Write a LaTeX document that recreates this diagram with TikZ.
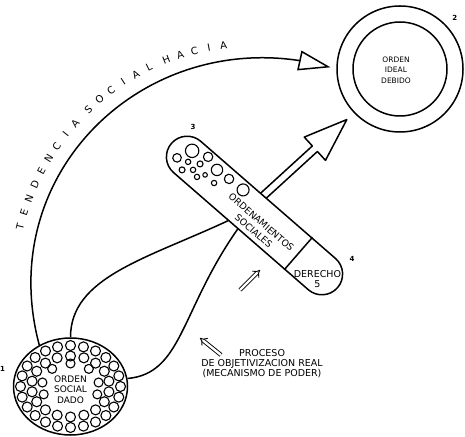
\documentclass[tikz,border=0pt]{standalone}
\usepackage{fontspec}
\setmainfont{DejaVu Sans}
\usetikzlibrary{arrows.meta,positioning,calc,shapes.geometric,shapes.arrows,bending}

\begin{document}
\begin{tikzpicture}[
  x=1pt, y=1pt, line width=1.5pt, line join=round,
  lbl/.style={align=center, inner sep=0pt},
  num/.style={inner sep=0pt, font=\fontsize{7}{7}\selectfont\bfseries},
  letra/.style={inner sep=0pt, font=\fontsize{10}{10}\selectfont},
  bubble/.style={line width=1.1pt},
  tube/.style={draw, fill=white, rounded corners=20.7pt, minimum width=220pt,
    minimum height=41.4pt, inner sep=0pt},
  bigarrow/.style={single arrow, draw, fill=white, minimum height=126pt,
    minimum width=30pt, single arrow head extend=12pt, single arrow tip angle=40,
    inner xsep=0pt, inner ysep=3pt},
  push/.style={double, double distance=2.4pt, line width=0.9pt, -{Implies[length=4pt, width=11pt]}},
  >={Triangle[open, length=32pt, width=20pt]}]
  \useasboundingbox (0,0) rectangle (465,436);

  % orden social dado
  \node[draw, ellipse, minimum width=114pt, minimum height=97pt, inner sep=0pt] (dado) at (70.5,49.5) {};
  \begin{scope}[shift={(dado.center)}, bubble]
    \foreach \k in {0,...,23} \draw ({50*cos(15*\k)},{41*sin(15*\k)}) circle[radius=5pt];
    \foreach \k in {0,...,17} \draw ({39*cos(20*\k+10)},{30.5*sin(20*\k+10)}) circle[radius=5pt];
    \foreach \a in {10,50,90,130,170,200,340} \draw ({28.5*cos(\a)},{23*sin(\a)}) circle[radius=4.5pt];
  \end{scope}
  \node[lbl, font=\fontsize{9}{10.5}\selectfont] (dadotxt) at ($(dado.center)+(0,-3)$) {ORDEN\\SOCIAL\\DADO};

  % orden ideal debido
  \node[draw, circle, minimum size=126pt, inner sep=0pt] (debido) at (400,367) {};
  \node[draw, circle, minimum size=94pt, inner sep=0pt] (ideal) at (debido.center) {};
  \node[lbl, font=\fontsize{7.5}{10.5}\selectfont] (idealtxt) at ($(ideal.center)+(-4,-1)$) {ORDEN\\IDEAL\\DEBIDO};

  % flecha hacia el orden ideal
  \node[bigarrow, rotate=42.4] (flecha) at (296.5,270.5) {};

  % ordenamientos sociales
  \node[tube, rotate=-41] (tubo) at (254.5,220.5) {};
  \begin{scope}[shift={(tubo.center)}, rotate=-41, bubble]
    \foreach \bx/\by/\br in {-89.5/7.9/6.7, -96.3/-7.3/4.3, -73.5/13.8/4.7, -85.3/-3.1/2.7,
        -74.9/3.2/3, -84.6/-13.1/3, -76.3/-5.9/2.7, -68.7/-8.6/2.7, -63.9/-1.8/2.3,
        -58.2/9.8/5.7, -51.8/-2/2.7, -43.2/10.9/4.7, -25.4/11.8/6}
      \draw (\bx,\by) circle[radius=\br pt];
  \end{scope}
  \draw ($(tubo.north west)!0.762!(tubo.north east)$) -- ($(tubo.south west)!0.762!(tubo.south east)$);
  \node[lbl, rotate=-41, font=\fontsize{9.3}{11.5}\selectfont] (ordtxt) at (257.5,209.5) {ORDENAMIENTOS\\SOCIALES};
  \node[lbl, font=\fontsize{9.5}{10.5}\selectfont] (derecho) at (317.5,157) {DERECHO\\5};

  % lazos entre el orden dado y los ordenamientos
  \draw ($(tubo.south west)!0.425!(tubo.south east)$) to[out=205, in=90, out distance=90pt, in distance=60pt] (dado.north);
  \draw ($(tubo.south west)!0.483!(tubo.south east)$) to[out=235, in=5, out distance=100pt, in distance=55pt] (dado.8);

  % tendencia social hacia
  \coordinate (centro) at (255,151);
  \draw[->, shorten >=6pt] (dado.127) to[out=105, in=163, out distance=186pt, in distance=186pt] (debido.west);
  \foreach \ch/\a [count=\i] in {T/166, E/162.5, N/159, D/155.5, E/152, N/148.5, C/145, I/141.5, A/138,
      S/133.5, O/130, C/126.5, I/123, A/119.5, L/116,
      H/111.5, A/108, C/104.5, I/101, A/97.5}
    \node[letra, rotate=\a-90] (tend\i) at ($(centro)+(\a:242)$) {\ch};

  % proceso
  \node[lbl, font=\fontsize{9.5}{10}\selectfont] (proceso) at (262,72) {PROCESO\\DE OBJETIVIZACION REAL\\(MECANISMO DE PODER)};
  \coordinate (p1a) at (221,81);
  \coordinate (p1b) at (200,98);
  \coordinate (p2a) at (240,146);
  \coordinate (p2b) at (260,166);
  \draw[push] (p1a) -- (p1b);
  \draw[push] (p2a) -- (p2b);

  % numeros
  \node[num, above left=14pt and 7pt of dado.west] (n1) {1};
  \node[num, above right=3pt and 6.5pt of debido.north east] (n2) {2};
  \node[num, right=5pt of tubo.north west] (n3) {3};
  \node[num, above=10pt of tubo.north east] (n4) {4};
\end{tikzpicture}
\end{document}
